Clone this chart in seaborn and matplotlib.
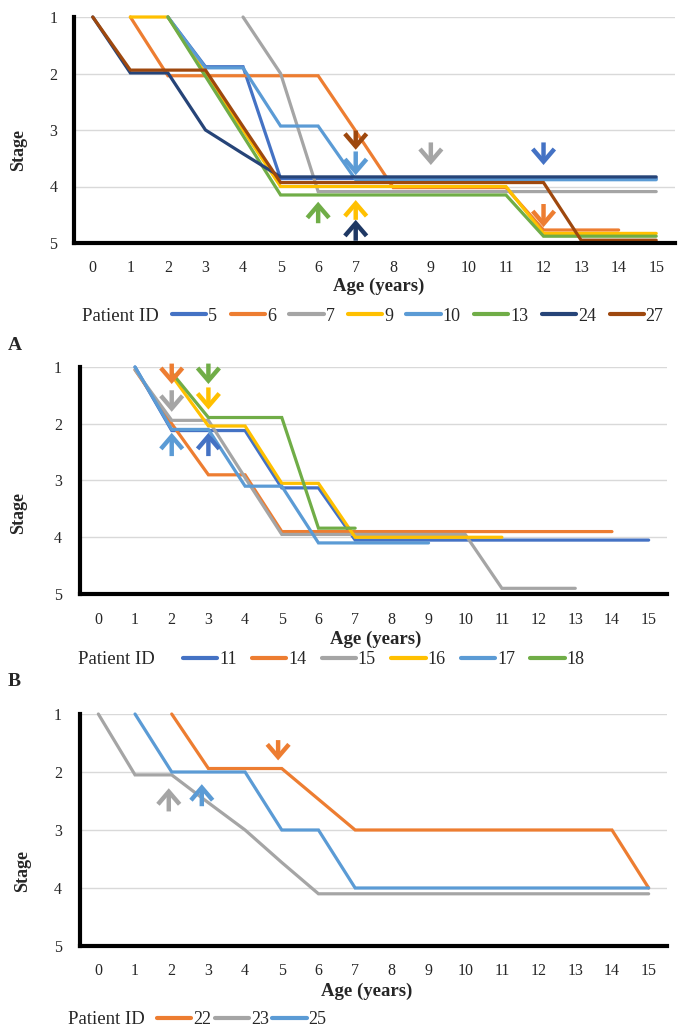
import numpy as np
import pandas as pd
import matplotlib
matplotlib.use("Agg")
import matplotlib.pyplot as plt
from matplotlib.lines import Line2D
import seaborn as sns

sns.set_style("white")
plt.rcParams['font.family'] = ['Liberation Serif', 'DejaVu Serif']

NA = np.nan
ages = list(range(16))
stage_ticks = [1, 2, 3, 4, 5]

# ---------------- Panel 1 (top) ----------------
top_ids = ["5", "6", "7", "9", "10", "13", "24", "27"]
top_vals = {
    "5":  [NA, NA, 1.0, 1.88, 1.88, 3.86, 3.86, 3.86, 3.86, 3.86, 3.86, 3.86, 3.86, 3.86, 3.86, 3.86],
    "6":  [NA, 1.0, 2.04, 2.04, 2.04, 2.04, 2.04, 3.02, 4.02, 4.02, 4.02, 4.02, 4.77, 4.77, 4.77, NA],
    "7":  [NA, NA, NA, NA, 1.0, 2.0, 4.09, 4.09, 4.09, 4.09, 4.09, 4.09, 4.09, 4.09, 4.09, 4.09],
    "9":  [NA, 1.0, 1.0, 2.0, 3.0, 4.0, 4.0, 4.0, 4.0, 4.0, 4.0, 4.0, 4.83, 4.83, 4.83, 4.83],
    "10": [NA, NA, 1.0, 1.9, 1.9, 2.93, 2.93, 3.88, 3.88, 3.88, 3.88, 3.88, 3.88, 3.88, 3.88, 3.88],
    "13": [NA, NA, 1.0, 2.05, 3.1, 4.15, 4.15, 4.15, 4.15, 4.15, 4.15, 4.15, 4.88, 4.88, 4.88, 4.88],
    "24": [1.0, 1.99, 1.99, 3.0, 3.42, 3.83, 3.83, 3.83, 3.83, 3.83, 3.83, 3.83, 3.83, 3.83, 3.83, 3.83],
    "27": [1.0, 1.94, 1.94, 1.94, 2.94, 3.93, 3.93, 3.93, 3.93, 3.93, 3.93, 3.93, 3.93, 4.95, 4.95, 4.95],
}
top_colors = ["#4472C4", "#ED7D31", "#A5A5A5", "#FFC000", "#5B9BD5", "#70AD47", "#264478", "#9E480E"]
top_arrow_x = [7, 7, 6, 7, 7, 9, 12, 12]
top_arrow_tail = [3.01, 3.38, 4.65, 4.59, 4.96, 3.22, 3.22, 4.31]
top_arrow_tip = [3.35, 3.80, 4.27, 4.24, 4.59, 3.62, 3.62, 4.72]
top_arrow_col = ["#9E480E", "#5B9BD5", "#70AD47", "#FFC000", "#1F3864", "#A5A5A5", "#4472C4", "#ED7D31"]

# ---------------- Panel A ----------------
a_ids = ["11", "14", "15", "16", "17", "18"]
a_vals = {
    "11": [NA, 1.0, 2.12, 2.12, 2.12, 3.13, 3.13, 4.05, 4.05, 4.05, 4.05, 4.05, 4.05, 4.05, 4.05, 4.05],
    "14": [NA, 1.05, 2.0, 2.9, 2.9, 3.9, 3.9, 3.9, 3.9, 3.9, 3.9, 3.9, 3.9, 3.9, 3.9, NA],
    "15": [NA, 1.05, 1.94, 1.94, 2.95, 3.95, 3.95, 3.95, 3.95, 3.95, 3.95, 4.9, 4.9, 4.9, NA, NA],
    "16": [NA, NA, 1.15, 2.04, 2.04, 3.05, 3.05, 4.0, 4.0, 4.0, 4.0, 4.0, NA, NA, NA, NA],
    "17": [NA, 1.0, 2.1, 2.1, 3.1, 3.1, 4.1, 4.1, 4.1, 4.1, NA, NA, NA, NA, NA, NA],
    "18": [NA, NA, 1.1, 1.89, 1.89, 1.89, 3.84, 3.84, NA, NA, NA, NA, NA, NA, NA, NA],
}
a_colors = ["#4472C4", "#ED7D31", "#A5A5A5", "#FFC000", "#5B9BD5", "#70AD47"]
a_arrow_x = [2, 3, 2, 3, 2, 3]
a_arrow_tail = [0.94, 0.94, 1.41, 1.36, 2.57, 2.57]
a_arrow_tip = [1.30, 1.30, 1.79, 1.75, 2.16, 2.16]
a_arrow_col = ["#ED7D31", "#70AD47", "#A5A5A5", "#FFC000", "#5B9BD5", "#4472C4"]

# ---------------- Panel B ----------------
b_ids = ["22", "23", "25"]
b_vals = {
    "22": [NA, NA, 1.0, 1.94, 1.94, 1.94, 2.47, 3.0, 3.0, 3.0, 3.0, 3.0, 3.0, 3.0, 3.0, 4.0],
    "23": [1.0, 2.05, 2.05, 2.53, 3.0, 3.56, 4.1, 4.1, 4.1, 4.1, 4.1, 4.1, 4.1, 4.1, 4.1, 4.1],
    "25": [NA, 1.0, 2.0, 2.0, 2.0, 3.0, 3.0, 4.0, 4.0, 4.0, 4.0, 4.0, 4.0, 4.0, 4.0, 4.0],
}
b_colors = ["#ED7D31", "#A5A5A5", "#5B9BD5"]
b_arrow_x = [4.9, 1.92, 2.82]
b_arrow_tail = [1.45, 2.68, 2.59]
b_arrow_tip = [1.80, 2.28, 2.21]
b_arrow_col = ["#ED7D31", "#A5A5A5", "#5B9BD5"]

W, H = 686, 1036
fig = plt.figure(figsize=(W / 100, H / 100), dpi=100)


def rect(l, r, t, b):
    return [l / W, 1 - b / H, (r - l) / W, (b - t) / H]


def long_df(ids, vals):
    rows = []
    for pid in ids:
        for a, s in zip(ages, vals[pid]):
            if not np.isnan(s):
                rows.append({"age": a, "stage": s, "pid": pid})
    return pd.DataFrame(rows)


def draw_panel(r, ids, vals, colors, ax_x, ax_tail, ax_tip, ax_col,
               ylab_xy, xlab_xy, tick_pad_x, tick_pad_y):
    ax = fig.add_axes(r)
    df = long_df(ids, vals)
    pal = dict(zip(ids, colors))
    sns.lineplot(data=df, x="age", y="stage", hue="pid", hue_order=ids,
                 palette=pal, estimator=None, sort=True, legend=False,
                 lw=2.3, ax=ax, clip_on=False, solid_joinstyle="miter")
    ax.set_xlim(-0.5, 15.5)
    ax.set_ylim(5, 1)
    ax.set_xticks(ages)
    ax.set_xticklabels([str(a) for a in ages], fontsize=11.5)
    ax.set_yticks(stage_ticks)
    ax.set_yticklabels([str(s) for s in stage_ticks], fontsize=11.5)
    ax.tick_params(axis="x", length=0, pad=tick_pad_x)
    ax.tick_params(axis="y", length=0, pad=tick_pad_y)
    ax.grid(axis="y", color="#D9D9D9", lw=1)
    ax.grid(axis="x", visible=False)
    for side in ["top", "right"]:
        ax.spines[side].set_visible(False)
    for side in ["left", "bottom"]:
        ax.spines[side].set_color("black")
        ax.spines[side].set_linewidth(3)
        ax.spines[side].set_zorder(5)
    ax.set_ylabel("Stage", fontsize=13, fontweight="bold")
    ax.yaxis.set_label_coords(*ylab_xy)
    ax.set_xlabel("Age (years)", fontsize=13.5, fontweight="bold")
    ax.xaxis.set_label_coords(*xlab_xy)
    for x, t0, t1, c in zip(ax_x, ax_tail, ax_tip, ax_col):
        ax.annotate("", xy=(x, t1), xytext=(x, t0), annotation_clip=False,
                    arrowprops=dict(arrowstyle="->,head_length=0.7,head_width=0.6",
                                    lw=3.2, color=c, mutation_scale=13,
                                    shrinkA=0, shrinkB=0, joinstyle="miter",
                                    capstyle="butt"), zorder=6)
    return ax


def add_legend(ids, colors, y_px, title_x_px, start_px, colspacing):
    fig.text(title_x_px / W, 1 - y_px / H, "Patient ID", fontsize=13.5,
             ha="left", va="center")
    handles = [Line2D([0], [0], color=c, lw=3, solid_capstyle="round") for c in colors]
    fig.legend(handles, ids, loc="center left",
               bbox_to_anchor=(start_px / W, 1 - y_px / H), ncol=len(ids),
               frameon=False, fontsize=13, handlelength=1.9, handletextpad=0.1,
               columnspacing=colspacing, borderpad=0, borderaxespad=0)


# top panel
draw_panel(rect(74, 675, 17, 243), top_ids, top_vals, top_colors,
           top_arrow_x, top_arrow_tail, top_arrow_tip, top_arrow_col,
           (-0.078, 0.41), (0.507, -0.155), 12, 12)
add_legend(top_ids, top_colors, 316, 82, 172, 0.75)

fig.text(8 / W, 1 - 345 / H, "A", fontsize=14, fontweight="bold", ha="left", va="center")

# panel A
draw_panel(rect(80, 667, 367, 594), a_ids, a_vals, a_colors,
           a_arrow_x, a_arrow_tail, a_arrow_tip, a_arrow_col,
           (-0.09, 0.358), (0.504, -0.163), 13, 13)
add_legend(a_ids, a_colors, 660, 78, 183, 0.85)

fig.text(8 / W, 1 - 682 / H, "B", fontsize=14, fontweight="bold", ha="left", va="center")

# panel B
draw_panel(rect(80, 667, 714, 946), b_ids, b_vals, b_colors,
           b_arrow_x, b_arrow_tail, b_arrow_tip, b_arrow_col,
           (-0.084, 0.325), (0.489, -0.16), 12, 13)
add_legend(b_ids, b_colors, 1020, 68, 157, 0.2)

fig.savefig("out.png", dpi=100)
